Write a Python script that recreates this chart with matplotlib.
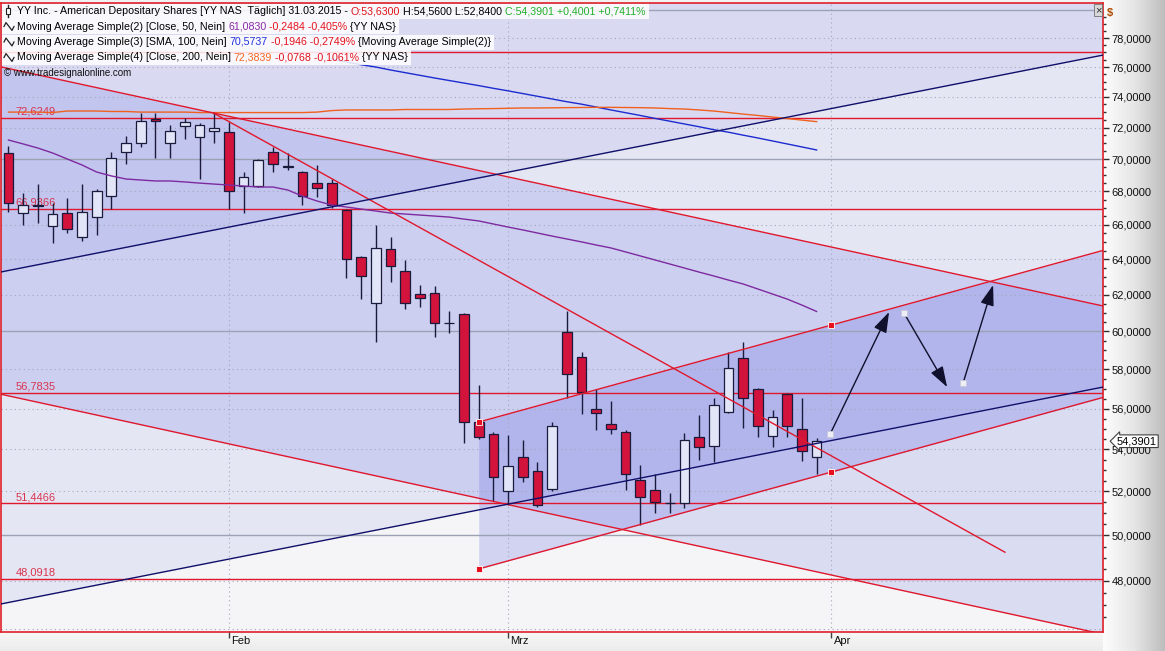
import numpy as np
import pandas as pd
import matplotlib
matplotlib.use("Agg")
import matplotlib.pyplot as plt
from matplotlib.patches import Rectangle
from matplotlib.lines import Line2D
from matplotlib.colors import LinearSegmentedColormap
from matplotlib.ticker import FixedLocator, FuncFormatter, NullFormatter
from matplotlib.transforms import IdentityTransform, blended_transform_factory

FAM = ["Liberation Sans", "DejaVu Sans"]
plt.rcParams["font.family"] = FAM

# ---------------- data ----------------
holidays = ["2015-01-19", "2015-02-16"]
dates = pd.bdate_range("2015-01-09", "2015-03-31")
dates = dates[~dates.isin(pd.to_datetime(holidays))]

opens = [70.38, 66.70, 67.20, 65.93, 66.70, 65.29, 66.46, 67.72, 70.44, 71.01,
         72.55, 71.01, 72.10, 71.39, 71.78, 71.71, 68.33, 68.33, 70.44, 69.50,
         69.19, 68.51, 68.51, 66.88, 64.13, 61.54, 64.59, 63.33, 62.04, 62.10,
         60.47, 60.94, 55.33, 54.74, 52.02, 53.63, 52.96, 52.11, 59.97, 58.64,
         55.98, 55.23, 54.84, 52.54, 52.07, 51.47, 51.47, 54.60, 54.16, 55.83,
         58.59, 56.99, 54.64, 56.74, 54.99, 53.63]
highs = [70.82, 67.90, 68.45, 67.30, 67.60, 68.45, 68.15, 70.44, 71.46, 72.94,
         72.94, 72.16, 72.62, 72.29, 72.94, 72.36, 69.19, 70.00, 70.76, 70.38,
         69.25, 69.63, 68.76, 66.94, 64.19, 65.99, 65.29, 63.96, 62.54, 62.49,
         61.10, 60.99, 57.19, 54.84, 54.69, 54.45, 53.39, 55.33, 61.10, 58.90,
         56.99, 56.38, 54.94, 53.24, 52.82, 51.93, 54.79, 55.68, 56.53, 58.90,
         59.43, 57.04, 55.93, 56.79, 56.53, 54.56]
lows = [66.76, 65.99, 66.11, 64.94, 65.52, 65.05, 65.40, 66.94, 69.69, 70.76,
        70.06, 70.06, 71.26, 68.76, 71.01, 66.94, 66.70, 68.27, 69.19, 69.32,
        67.18, 67.66, 67.00, 62.94, 61.76, 59.43, 62.71, 61.21, 61.32, 59.70,
        59.91, 54.30, 54.50, 51.56, 51.38, 52.44, 51.28, 52.02, 56.53, 55.73,
        54.94, 54.74, 52.07, 50.46, 51.01, 51.01, 51.24, 53.48, 53.39, 55.80,
        55.04, 54.60, 54.11, 54.60, 53.43, 52.84]
closes = [67.30, 67.18, 67.15, 66.64, 65.75, 66.76, 68.03, 70.06, 71.01, 72.42,
          72.42, 71.78, 72.36, 72.16, 71.97, 68.03, 68.88, 69.94, 69.69, 69.56,
          67.72, 68.21, 67.18, 64.01, 63.05, 64.65, 63.61, 61.54, 61.82, 60.45,
          60.45, 55.33, 54.60, 52.68, 53.20, 52.68, 51.38, 55.13, 57.76, 56.84,
          55.78, 54.99, 52.82, 51.74, 51.51, 51.45, 54.45, 54.11, 56.18, 58.07,
          56.53, 55.13, 55.58, 55.13, 53.92, 54.39]

ma50 = [71.20, 70.95, 70.69, 70.38, 70.00, 69.63, 69.19, 68.95, 68.76, 68.70,
        68.64, 68.64, 68.58, 68.51, 68.45, 68.39, 68.33, 68.27, 68.27, 68.09,
        67.72, 67.42, 67.18, 67.06, 66.94, 66.82, 66.70, 66.64, 66.58, 66.52,
        66.46, 66.34, 66.23, 66.05, 65.87, 65.70, 65.52, 65.34, 65.17, 65.00,
        64.82, 64.65, 64.42, 64.19, 63.96, 63.73, 63.50, 63.27, 63.05, 62.82,
        62.60, 62.32, 62.04, 61.76, 61.43, 61.08]
ma100 = [np.nan] * 22 + [
        76.55, 76.34, 76.16, 76.00, 75.80, 75.62, 75.44, 75.26, 75.09, 74.92,
        74.75, 74.57, 74.40, 74.22, 74.04, 73.86, 73.68, 73.52, 73.33, 73.14,
        72.96, 72.78, 72.59, 72.41, 72.23, 72.05, 71.86, 71.70, 71.51, 71.33,
        71.14, 70.95, 70.76, 70.57]
ma200 = [73.00, 73.00, 73.00, 72.97, 73.07, 73.07, 73.07, 73.04, 73.04, 73.00,
         73.00, 73.00, 73.00, 72.97, 72.97, 72.97, 72.97, 72.97, 72.97, 72.97,
         72.97, 73.00, 73.10, 73.14, 73.14, 73.14, 73.14, 73.17, 73.17, 73.17,
         73.17, 73.20, 73.22, 73.23, 73.25, 73.27, 73.27, 73.28, 73.29, 73.30,
         73.31, 73.31, 73.30, 73.29, 73.27, 73.23, 73.20, 73.14, 73.07, 72.97,
         72.87, 72.78, 72.68, 72.58, 72.48, 72.38]

levels = [77.03, 72.6249, 66.9366, 56.7835, 51.4466, 48.0918]
level_texts = [None, "72,6249", "66,9366", "56,7835", "51,4466", "48,0918"]
month_labels = ["Feb", "Mrz", "Apr"]

# drawing-tool anchor points (bar index, price)
desc_upper = [(-0.55, 76.02), (74.5, 61.38)]
desc_lower = [(-0.55, 56.73), (74.5, 45.77)]
steep_line = [(13.95, 72.94), (67.82, 49.25)]
rise_upper = [(32, 55.33), (56, 60.34)]
rise_lower = [(32, 48.52), (56, 52.91)]
navy_upper = [(-0.55, 63.27), (74.5, 76.82)]
navy_lower = [(-0.55, 47.02), (74.5, 57.09)]
arrow_starts = [(55.92, 54.74), (60.95, 60.99), (64.97, 57.30)]
arrow_ends = [(59.93, 61.05), (63.88, 57.09), (67.01, 62.54)]
last_price = 54.3901

# ---------------- figure ----------------
W, H = 1165, 651
XMIN, XMAX = -0.544, 74.49
YMIN, YMAX = 45.86, 80.48

fig = plt.figure(figsize=(W / 100, H / 100), dpi=100)
fig.patch.set_facecolor("#f2f2f2")

gax = fig.add_axes([1103 / W, 0, 62 / W, 1], zorder=-2)
gax.imshow(np.linspace(0, 1, 256)[None, :], aspect="auto", extent=[0, 1, 0, 1],
           cmap=LinearSegmentedColormap.from_list("g", ["#fdfdfd", "#e6e6e6", "#bdbdbd"]))
gax.axis("off")
bax = fig.add_axes([0, 0, 1103 / W, 19 / H], zorder=-2)
bax.imshow(np.linspace(0, 1, 64)[:, None], aspect="auto", extent=[0, 1, 0, 1],
           cmap=LinearSegmentedColormap.from_list("b", ["#f7f7f7", "#ececec"]))
bax.axis("off")

ax = fig.add_axes([0.5 / W, 19 / H, 1102.5 / W, 629 / H])
ax.set_facecolor("#f5f5f7")
ax.set_yscale("log")


def line_at(p, x):
    (x1, y1), (x2, y2) = p
    t = (np.asarray(x, float) - x1) / (x2 - x1)
    return np.exp(np.log(y1) + t * (np.log(y2) - np.log(y1)))


FILL = (0.27, 0.31, 0.86)
xs = np.array([XMIN, XMAX])
ax.fill_between(xs, line_at(navy_lower, xs), YMAX * 1.05, color=FILL, alpha=0.085, lw=0, zorder=0.5)
ax.fill_between(xs, line_at(navy_upper, xs), YMAX * 1.05, color=FILL, alpha=0.075, lw=0, zorder=0.5)
ax.fill_between(xs, line_at(desc_lower, xs), line_at(desc_upper, xs), color=FILL, alpha=0.15, lw=0, zorder=0.5)
xr = np.array([rise_upper[0][0], XMAX])
ax.fill_between(xr, line_at(rise_lower, xr), line_at(rise_upper, xr), color=FILL, alpha=0.2, lw=0, zorder=0.6)

# grid
for v in range(46, 81, 2):
    if v % 10 == 0:
        ax.axhline(v, color="#9ba2b4", lw=1.0, zorder=1)
    else:
        ax.axhline(v, color="#a3a8ba", lw=0.8, ls=(0, (1, 3)), zorder=1)
month_idx = [int(np.argmax(dates.month == 2)), int(np.argmax(dates.month == 3)), len(dates)]
for mi in month_idx:
    ax.axvline(mi, color="#a3a8ba", lw=0.8, ls=(0, (1, 3)), zorder=1)

# horizontal levels
for lv, lt in zip(levels, level_texts):
    ax.axhline(lv, color="#e0182d", lw=1.0, zorder=2)
    if lt:
        ax.text(15 / 1103, lv * 1.001, lt, transform=blended_transform_factory(ax.transAxes, ax.transData),
                color="#d8344f", fontsize=8, va="bottom", ha="left", zorder=2)

# candles
idx = np.arange(len(opens))
o = np.array(opens); h = np.array(highs); l = np.array(lows); c = np.array(closes)
EDGE = "#1a1a3c"
ax.vlines(idx, l, h, color=EDGE, lw=1.0, zorder=3)
up = c >= o
bottoms = np.minimum(o, c)
heights = np.maximum(np.abs(c - o), 0.015)
ax.bar(idx, heights, bottom=bottoms, width=0.66,
       color=np.where(up, "#e2e4f7", "#d2143d"), edgecolor=EDGE, lw=0.9, zorder=4)

# moving averages
ax.plot(idx, ma50, color="#7d2aa0", lw=1.0, zorder=5)
ax.plot(idx, ma100, color="#1c2bd0", lw=1.0, zorder=5)
ax.plot(idx, ma200, color="#f0601e", lw=1.0, zorder=5)

# trend lines
RED = "#e0182d"; NAVY = "#10106a"
for p in (desc_upper, desc_lower):
    ax.plot(xs, line_at(p, xs), color=RED, lw=1.0, zorder=5)
sx = np.array([steep_line[0][0], steep_line[1][0]])
ax.plot(sx, line_at(steep_line, sx), color=RED, lw=1.0, zorder=5)
for p in (rise_upper, rise_lower):
    ax.plot(xr, line_at(p, xr), color=RED, lw=1.0, zorder=5)
    ax.plot([q[0] for q in p], [q[1] for q in p], "s", ms=4, mfc="#e8101e", mec="white", mew=0.6, zorder=6)
for p in (navy_upper, navy_lower):
    ax.plot(xs, line_at(p, xs), color=NAVY, lw=1.0, zorder=5)

# forecast arrows
for s, e in zip(arrow_starts, arrow_ends):
    ax.annotate("", xy=e, xytext=s,
                arrowprops=dict(arrowstyle="-|>,head_length=0.9,head_width=0.3", color="#10102c",
                                lw=1.0, shrinkA=0, shrinkB=0, mutation_scale=14), zorder=6)
    ax.plot([s[0]], [s[1]], "s", ms=4, mfc="#eeeef6", mec="#c8c8d8", mew=0.6, zorder=7)

ax.set_xlim(XMIN, XMAX)
ax.set_ylim(YMIN, YMAX)

# axes styling
for sp in ax.spines.values():
    sp.set_color("#e0202a"); sp.set_linewidth(1.2)
ax.yaxis.tick_right()
ax.yaxis.set_major_locator(FixedLocator(np.arange(48, 79, 2)))
ax.yaxis.set_minor_locator(FixedLocator([v for v in np.arange(46, 80.6, 0.5) if v % 2 != 0]))
ax.yaxis.set_major_formatter(FuncFormatter(lambda v, p: f"{v:.4f}".replace(".", ",")))
ax.yaxis.set_minor_formatter(NullFormatter())
ax.tick_params(axis="y", which="major", direction="out", length=4, width=1, color="#303030",
               labelsize=8, pad=2, labelcolor="#111111")
ax.tick_params(axis="y", which="minor", direction="out", length=2, width=1, color="#303030")
ax.set_xticks(month_idx)
ax.set_xticklabels([])
ax.tick_params(axis="x", direction="out", length=4, width=1, color="#404040")
bt = blended_transform_factory(ax.transData, ax.transAxes)
for mi, ml in zip(month_idx, month_labels):
    ax.text(mi + 0.15, -0.006, ml, transform=bt, fontsize=8, va="top", ha="left", color="#111111",
            clip_on=False)

# price marker
ax.annotate(f"{last_price:.4f}".replace(".", ","), xy=(1, last_price), xycoords=("axes fraction", "data"),
            xytext=(10, 0), textcoords="offset points", va="center", ha="left", fontsize=8,
            bbox=dict(boxstyle="larrow,pad=0.12", fc="white", ec="#404040", lw=0.8),
            annotation_clip=False, zorder=10)
fig.text(1107 / W, 1 - 13 / H, "$", color="#b04a00", fontsize=8, fontweight="bold", va="center")
fig.text(1098 / W, 1 - 10 / H, "×", color="#303030", fontsize=8, va="center", ha="center",
         bbox=dict(boxstyle="square,pad=0.1", fc="#d8d8d8", ec="#707070", lw=0.6))

# legend rows
LFS = 7.7
BLACK = "#000000"; LRED = "#e3121b"; GREEN = "#22b02a"; PURPLE = "#8a2aa8"; BLUE = "#2233dd"; ORANGE = "#f26522"
legend_rows = [
    [("YY Inc. - American Depositary Shares [YY NAS  Täglich] 31.03.2015 -", BLACK),
     ("O:53,6300", LRED), ("H:54,5600 L:52,8400", BLACK), ("C:54,3901 +0,4001 +0,7411%", GREEN)],
    [("Moving Average Simple(2) [Close, 50, Nein]", BLACK), ("61,0830", PURPLE),
     ("-0,2484 -0,405%", LRED), ("{YY NAS}", BLACK)],
    [("Moving Average Simple(3) [SMA, 100, Nein]", BLACK), ("70,5737", BLUE),
     ("-0,1946 -0,2749%", LRED), ("{Moving Average Simple(2)}", BLACK)],
    [("Moving Average Simple(4) [Close, 200, Nein]", BLACK), ("72,3839", ORANGE),
     ("-0,0768 -0,1061%", LRED), ("{YY NAS}", BLACK)],
]
row_y = [11, 26.5, 42, 57.5]
last_pieces = []
for r, (row, yc) in enumerate(zip(legend_rows, row_y)):
    prev = None
    for k, (s, col) in enumerate(row):
        if prev is None:
            t = ax.annotate(s, xy=(17, H - yc), xycoords="figure pixels", va="center", ha="left",
                            fontsize=LFS, color=col, annotation_clip=False, zorder=12)
        else:
            t = ax.annotate(s, xy=(1, 0.5), xycoords=prev, xytext=(2.1, 0), textcoords="offset points",
                            va="center", ha="left", fontsize=LFS, color=col, annotation_clip=False, zorder=12)
        prev = t
    last_pieces.append(prev)
    if r == 0:
        ax.add_artist(Line2D([8, 8], [H - yc - 6, H - yc + 6], color="#202020", lw=1,
                             transform=IdentityTransform(), zorder=12, clip_on=False))
        ax.add_artist(Rectangle((6, H - yc - 3), 4, 6, fc="white", ec="#202020", lw=0.8,
                                transform=IdentityTransform(), zorder=12.5, clip_on=False))
    else:
        ax.add_artist(Line2D([4, 6, 8, 10, 12, 14], np.array([0, 3, 1, -1, -3, 0]) * 1.3 + (H - yc),
                             color="#202020", lw=0.9, transform=IdentityTransform(), zorder=12,
                             clip_on=False))
ax.annotate("\u00a9 www.tradesignalonline.com", xy=(4, H - 73), xycoords="figure pixels",
            va="center", ha="left", fontsize=7, color="#111111", annotation_clip=False, zorder=12)

fig.canvas.draw()
rend = fig.canvas.get_renderer()
for lp, yc in zip(last_pieces, row_y):
    ext = lp.get_window_extent(rend)
    ax.add_artist(Rectangle((2, H - yc - 7.5), ext.x1 + 3 - 2, 15, fc="white", ec="none", alpha=0.85,
                            transform=IdentityTransform(), zorder=11, clip_on=False))

fig.savefig("out.png", dpi=100)
